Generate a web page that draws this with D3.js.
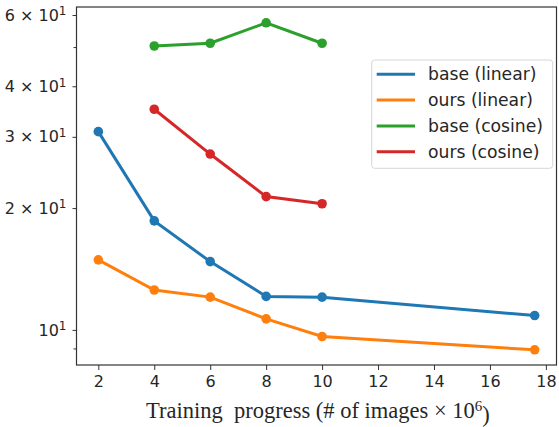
<!DOCTYPE html>
<html>
<head>
<meta charset="utf-8">
<script src="https://cdn.jsdelivr.net/npm/d3@7"></script>
<style>
  body { margin: 0; background: #fff; }
  svg text { font-family: "DejaVu Sans", sans-serif; fill: #262626; }
  .xlabel { font-family: "Liberation Serif", "Times New Roman", serif; white-space: pre; }
</style>
</head>
<body>
<svg id="chart" width="559" height="427"></svg>
<script>
// data
const xLinear = [2, 4, 6, 8, 10, 17.6];
const baseLinear = [30.9, 18.6, 14.75, 12.1, 12.05, 10.85];
const oursLinear = [14.9, 12.55, 12.05, 10.65, 9.63, 8.93];
const xCosine = [4, 6, 8, 10];
const baseCosine = [50.3, 51.1, 57.4, 51.1];
const oursCosine = [35.1, 27.2, 21.35, 20.5];

const seriesNames = ["base (linear)", "ours (linear)", "base (cosine)", "ours (cosine)"];
const colors = ["#1f77b4", "#ff7f0e", "#2ca02c", "#d62728"];

const xTicks = [2, 4, 6, 8, 10, 12, 14, 16, 18];
const yLabeled = [10, 20, 30, 40, 60];
const yLabelText = ["10", "2 × 10", "3 × 10", "4 × 10", "6 × 10"];
const yMinor = [9, 50];

const margin = { top: 7, right: 2.5, bottom: 62, left: 76.5 };
const W = 559, H = 427;
const width = W - margin.left - margin.right;
const height = H - margin.top - margin.bottom;

const svg = d3.select("#chart")
  .append("g")
  .attr("transform", "translate(" + margin.left + "," + margin.top + ")");

const x = d3.scaleLinear().domain([1.22, 18.38]).range([0, width]);
const y = d3.scaleLog().domain([8.19, 62.8]).range([height, 0]);

// x axis
const xAxis = svg.append("g")
  .attr("transform", "translate(0," + height + ")")
  .call(d3.axisBottom(x).tickValues(xTicks).tickSizeOuter(0).tickSize(5).tickPadding(6));
xAxis.select(".domain").remove();
xAxis.selectAll("line").attr("stroke", "#333");
xAxis.selectAll("text").style("font-size", "16px").attr("fill", "#262626");

// y axis: labeled ticks
const yAxis = svg.append("g")
  .call(d3.axisLeft(y).tickValues(yLabeled).tickSize(4).tickPadding(6)
    .tickFormat((d, i) => ""));
yAxis.select(".domain").remove();
yAxis.selectAll("line").attr("stroke", "#333");
yAxis.selectAll(".tick").each(function (d, i) {
  const t = d3.select(this).select("text")
    .attr("fill", "#262626").style("font-size", "16px")
    .attr("dy", "0.32em")
    .attr("x", -10);
  t.append("tspan").text(yLabelText[i]);
  t.append("tspan").attr("dy", "-0.45em").style("font-size", "12px").text("1");
});

// y axis: minor unlabeled ticks
svg.append("g")
  .call(d3.axisLeft(y).tickValues(yMinor).tickSize(3).tickFormat(""))
  .call(g => g.select(".domain").remove())
  .selectAll("line").attr("stroke", "#333");

// frame
svg.append("rect")
  .attr("x", 0).attr("y", 0)
  .attr("width", width).attr("height", height)
  .attr("fill", "none").attr("stroke", "#333").attr("stroke-width", 1.2);

// lines
const series = [
  { xs: xLinear, ys: baseLinear },
  { xs: xLinear, ys: oursLinear },
  { xs: xCosine, ys: baseCosine },
  { xs: xCosine, ys: oursCosine }
];

const line = d3.line().x(d => x(d[0])).y(d => y(d[1]));

series.forEach((s, i) => {
  const pts = s.xs.map((v, j) => [v, s.ys[j]]);
  svg.append("path")
    .datum(pts)
    .attr("d", line)
    .attr("fill", "none")
    .attr("stroke", colors[i])
    .attr("stroke-width", 3);
  svg.append("g").selectAll("circle")
    .data(pts).enter()
    .append("circle")
    .attr("cx", d => x(d[0]))
    .attr("cy", d => y(d[1]))
    .attr("r", 4.8)
    .attr("fill", colors[i]);
});

// legend
const lg = svg.append("g").attr("transform", "translate(" + (371.7 - margin.left) + "," + (60 - margin.top) + ")");
lg.append("rect")
  .attr("width", 181).attr("height", 108.3)
  .attr("rx", 3)
  .attr("fill", "#fff").attr("fill-opacity", 0.8)
  .attr("stroke", "#d6d6d6");
seriesNames.forEach((name, i) => {
  const yy = 14.3 + i * 25.8;
  lg.append("line")
    .attr("x1", 5).attr("x2", 43.3)
    .attr("y1", yy).attr("y2", yy)
    .attr("stroke", colors[i]).attr("stroke-width", 3);
  lg.append("text")
    .attr("x", 56.3).attr("y", yy).attr("dy", "0.35em")
    .style("font-size", "17.2px")
    .text(name);
});

// x label
const xl = svg.append("text")
  .attr("class", "xlabel")
  .attr("x", 146 - margin.left).attr("y", 418 - margin.top)
  .style("font-size", "22.5px")
  .attr("fill", "#1a1a1a");
xl.append("tspan").text("Training  progress (# of images × 10");
xl.append("tspan").attr("dy", "-0.5em").style("font-size", "15px").text("6");
xl.append("tspan").attr("dy", "0.5em").text(")");
</script>
</body>
</html>
